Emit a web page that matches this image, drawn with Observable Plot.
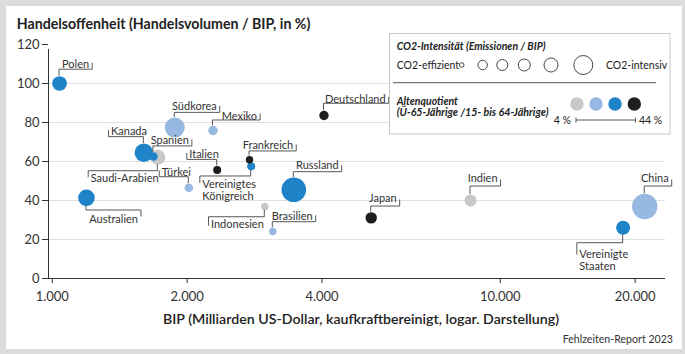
<!DOCTYPE html>
<html lang="de">
<head>
<meta charset="utf-8">
<script src="https://cdn.jsdelivr.net/npm/d3@7"></script>
<script src="https://cdn.jsdelivr.net/npm/@observablehq/plot@0.6"></script>
<style>
  html, body { margin:0; padding:0; }
  body { width:685px; height:354px; background:#dcdcdc; position:relative; overflow:hidden; font-family: Lato, "Open Sans", sans-serif; }
  #panel { position:absolute; left:6px; top:6px; width:676px; height:343px; background:#fff; }
  #chart { position:absolute; left:0; top:0; }
</style>
</head>
<body>
<div id="panel"></div>
<div id="chart"></div>
<script>
// ---------- data ----------
const countries = ["Polen","Kanada","Spanien","Saudi-Arabien","Südkorea","Mexiko","Türkei","Italien","Frankreich","Vereinigtes Königreich","Australien","Russland","Indonesien","Brasilien","Deutschland","Japan","Indien","Vereinigte Staaten","China"];
// BIP (Mrd. US-Dollar, KKP)
const bip = [1038,1601,1682,1720,1877,2284,2017,2334,2756,2780,1192,3460,2981,3106,4041,5151,8581,18806,21016];
// Handelsoffenheit (%)
const handel = [100,64.5,62.6,62.2,77.4,75.9,46.5,55.7,60.9,57.6,41.4,45.5,36.9,24.1,83.6,31.1,40,26,36.9];
// CO2-Intensität (relative Größe)
const co2 = [0.272,0.441,0.094,0.287,0.51,0.113,0.094,0.082,0.07,0.082,0.351,0.772,0.07,0.07,0.113,0.166,0.184,0.25,0.823];
// Altenquotient-Klasse (0 = niedrig ... 3 = hoch)
const altKlasse = [2,2,2,0,1,1,1,3,3,2,2,2,0,1,3,3,0,2,1];

const xTicks = [1000,2000,4000,10000,20000];
const yTicks = [0,20,40,60,80,100,120];
const gridTicks = [20,40,60,80,100];
const legendCO2 = [0.027,0.113,0.154,0.184,0.25,0.46];
const altColors = ["#c8c8c8","#97b9e1","#1f83c8","#1f1d1d"];

// label layout (annotation offsets in px relative to the dot)
const labelLayout = [
 {name:"Polen", tx:3, ly:-13.8, ty:-20.5, side:"R"},
 {name:"Südkorea", tx:-2.3, ly:-14.7, ty:-22, side:"R"},
 {name:"Mexiko", tx:9.2, ly:-10, ty:-15, side:"R"},
 {name:"Deutschland", tx:1.5, ly:-11.7, ty:-16.7, side:"R"},
 {name:"Spanien", tx:-2.3, ly:-10, ty:-16.7, side:"R"},
 {name:"Frankreich", tx:-6.3, ly:-8.3, ty:-15.3, side:"R"},
 {name:"Russland", tx:2.7, ly:-17.6, ty:-25.3, side:"R"},
 {name:"Brasilien", tx:-0.6, ly:-9.3, ty:-15.7, side:"R"},
 {name:"Japan", tx:-1.7, ly:-11.3, ty:-20, side:"R"},
 {name:"Indien", tx:-2.3, ly:-14, ty:-22.7, side:"R"},
 {name:"China", tx:-3.3, ly:-20, ty:-28.7, side:"R"},
 {name:"Australien", tx:3.3, ly:12.7, ty:21, side:"R"},
 {name:"Kanada", tx:-32.3, ly:-15.6, ty:-22.3, side:"L"},
 {name:"Saudi-Arabien", tx:-66.6, ly:14, ty:20.6, side:"L"},
 {name:"Türkei", tx:-26.6, ly:-10.6, ty:-16.3, side:"L"},
 {name:"Italien", tx:-27.4, ly:-10, ty:-16, side:"L"},
 {name:"Vereinigtes Königreich", tx:-48.4, ly:10.3, ty:17.6, side:"L", wrap:true, tick:7},
 {name:"Indonesien", tx:-53.3, ly:10.7, ty:17.3, side:"L", tick:9},
 {name:"Vereinigte Staaten", tx:-43.3, ly:15.4, ty:26, side:"L", wrap:true, tick:12}
];

const data = countries.map((name, i) => ({name, bip: bip[i], handel: handel[i], co2: co2[i], alt: altKlasse[i]}));
const fmt = d => d3.format(",")(d).replace(/,/g, ".");
const xMin = 980.7, xMax = 23380;
const FONT = "Lato, 'Open Sans', sans-serif";

const plot = Plot.plot({
  width: 685, height: 354,
  marginLeft: 48, marginRight: 20, marginTop: 44, marginBottom: 76,
  style: {background: "transparent", fontFamily: FONT, fontSize: "13px", color: "#333", overflow: "visible"},
  x: {type: "log", domain: [xMin, xMax], ticks: xTicks, tickFormat: fmt, tickSize: 5, tickPadding: 8, label: null},
  y: {domain: [0, 120], ticks: yTicks, tickSize: 6, tickPadding: 3, label: null},
  r: {type: "sqrt", domain: [0, 1], range: [0, 14]},
  color: {type: "ordinal", domain: [0,1,2,3], range: altColors},
  marks: [
    Plot.ruleY(gridTicks, {stroke: "#e0e0e0", strokeWidth: 1}),
    Plot.ruleX([xMin], {y1: 0, y2: 120, insetBottom: -5, stroke: "#333"}),
    Plot.ruleY([0], {stroke: "#333"}),
    Plot.dot(data, {x: "bip", y: "handel", r: "co2", fill: "alt"})
  ]
});
document.getElementById("chart").append(plot);

const svg = d3.select(plot);
const sx = plot.scale("x").apply, sy = plot.scale("y").apply, sr = plot.scale("r").apply, sc = plot.scale("color").apply;

// ---------- labels ----------
const g = svg.append("g").attr("font-family", FONT).attr("font-size", 11).attr("fill", "#333").attr("text-anchor", "start");
labelLayout.forEach(L => {
  const i = countries.indexOf(L.name);
  const cx = sx(bip[i]), cy = sy(handel[i]), r = sr(co2[i]);
  const lines = L.wrap ? [L.name.slice(0, L.name.indexOf(" ")), L.name.slice(L.name.indexOf(" ") + 1)] : [L.name];
  const t = g.append("text").attr("text-anchor", "start").attr("dominant-baseline", "central");
  lines.forEach((s, k) => t.append("tspan").attr("x", cx + L.tx).attr("y", cy + L.ty + k * 11.7).text(s));
  const w = t.node().getBBox().width;
  const ly = cy + L.ly;
  const y0 = L.ly < 0 ? cy - r : cy + r;
  const textStart = cx + L.tx, textEnd = textStart + w;
  const far = L.side === "R" ? textEnd + 3 : textStart - 2.5;
  const dir = Math.sign(L.ty - L.ly);
  const tick = L.tick || 6.5;
  g.append("path")
    .attr("d", `M${cx},${y0}V${ly}H${far}V${ly + dir * tick}`)
    .attr("fill", "none").attr("stroke", "#444").attr("stroke-width", 0.9);
});

// ---------- titles ----------
svg.append("text").attr("x", 16.7).attr("y", 23.3).attr("text-anchor", "start").attr("dominant-baseline", "central")
  .attr("font-family", FONT).attr("font-weight", 700).attr("font-size", 14.2).attr("fill", "#222")
  .text("Handelsoffenheit (Handelsvolumen / BIP, in %)");
svg.append("text").attr("x", 361).attr("y", 318).attr("text-anchor", "middle").attr("dominant-baseline", "central")
  .attr("font-family", FONT).attr("font-weight", 600).attr("font-size", 14.2).attr("fill", "#222")
  .text("BIP (Milliarden US-Dollar, kaufkraftbereinigt, logar. Darstellung)");
svg.append("text").attr("x", 673).attr("y", 339).attr("text-anchor", "end").attr("dominant-baseline", "central")
  .attr("font-family", FONT).attr("font-size", 10.6).attr("fill", "#333")
  .text("Fehlzeiten-Report 2023");

// ---------- legend ----------
const lg = svg.append("g").attr("font-family", FONT).attr("fill", "#222").attr("text-anchor", "start");
lg.append("rect").attr("x", 389.5).attr("y", 33.5).attr("width", 280.5).attr("height", 100.5)
  .attr("fill", "#fff").attr("stroke", "#c8c8c8");
lg.append("text").attr("x", 396.7).attr("y", 46).attr("dominant-baseline", "central")
  .attr("font-size", 10.5).attr("font-weight", 700).attr("font-style", "italic")
  .text("CO2-Intensität (Emissionen / BIP)");
lg.append("text").attr("x", 396.7).attr("y", 65).attr("dominant-baseline", "central")
  .attr("font-size", 10.5).text("CO2-effizient");
const circX = [461.7, 482.7, 502.3, 524.3, 551, 583.3];
legendCO2.forEach((v, k) => lg.append("circle").attr("cx", circX[k]).attr("cy", 65).attr("r", sr(v))
  .attr("fill", "none").attr("stroke", "#333").attr("stroke-width", 0.9));
lg.append("text").attr("x", 606).attr("y", 65).attr("dominant-baseline", "central")
  .attr("font-size", 10.5).text("CO2-intensiv");
lg.append("line").attr("x1", 393).attr("x2", 656).attr("y1", 82.7).attr("y2", 82.7)
  .attr("stroke", "#444").attr("stroke-width", 0.9);
lg.append("text").attr("x", 396.7).attr("y", 100.7).attr("dominant-baseline", "central")
  .attr("font-size", 10.5).attr("font-weight", 700).attr("font-style", "italic").text("Altenquotient");
lg.append("text").attr("x", 396.7).attr("y", 111.7).attr("dominant-baseline", "central")
  .attr("font-size", 10.7).attr("font-weight", 700).attr("font-style", "italic").text("(Ü-65-Jährige /15- bis 64-Jährige)");
const dotX = [577, 596, 615, 634.3];
[0,1,2,3].forEach(k => lg.append("circle").attr("cx", dotX[k]).attr("cy", 104).attr("r", 6.7).attr("fill", sc(k)));
lg.append("text").attr("x", 571).attr("y", 120).attr("text-anchor", "end").attr("dominant-baseline", "central")
  .attr("font-size", 10.5).text("4 %");
lg.append("path").attr("d", "M576,117.5V122.5M576,120H635.5M635.5,117.5V122.5")
  .attr("fill", "none").attr("stroke", "#444").attr("stroke-width", 0.9);
lg.append("text").attr("x", 639).attr("y", 120).attr("dominant-baseline", "central")
  .attr("font-size", 10.5).text("44 %");
</script>
</body>
</html>
